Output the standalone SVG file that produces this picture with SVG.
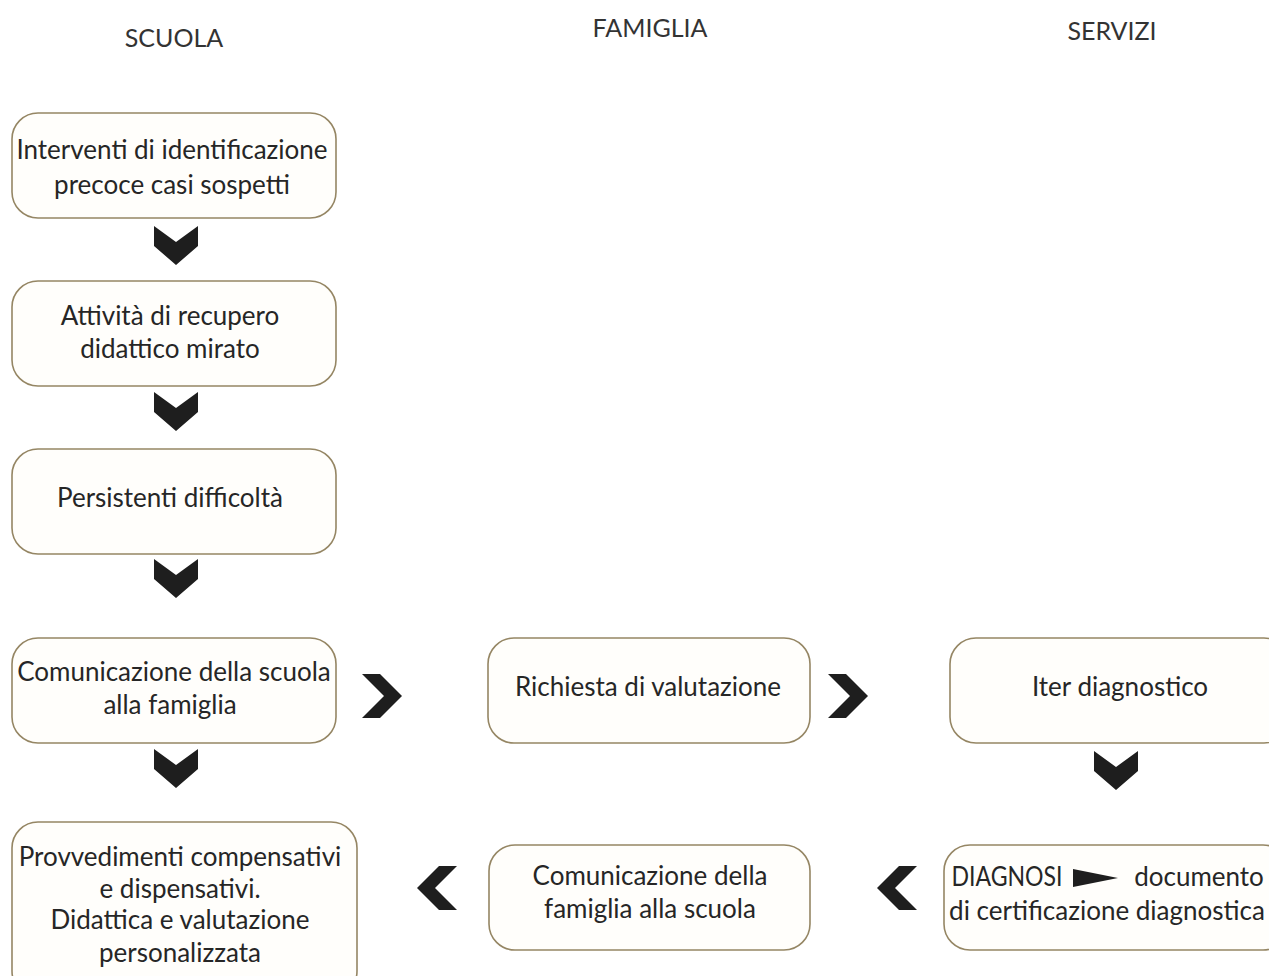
<svg xmlns="http://www.w3.org/2000/svg" width="1269" height="976" viewBox="0 0 1269 976">
<defs>
<style>
.box{fill:#fffefb;stroke:#958664;stroke-width:1.6}
.t{font-family:Lato,"Liberation Sans",sans-serif;font-size:26px;fill:#262626;text-anchor:middle}
.h{font-family:Lato,"Liberation Sans",sans-serif;font-size:25px;fill:#333;text-anchor:middle}
.chev{fill:#1e1e1e}
</style>
<polygon id="cd" points="-22,-19 0,-3 22,-19 22,1 0,20 -22,1"/>
<polygon id="cr" points="-20,-22 -2,-22 20,0 -2,22 -20,22 2,0"/>
</defs>
<rect width="1269" height="976" fill="#fff"/>
<g id="headers">
<text class="h" x="174" y="47">SCUOLA</text>
<text class="h" x="650" y="37">FAMIGLIA</text>
<text class="h" x="1112" y="40">SERVIZI</text>
</g>
<g id="connectors" class="chev">
<use href="#cd" x="176" y="245"/>
<use href="#cd" x="176" y="411"/>
<use href="#cd" x="176" y="578"/>
<use href="#cd" x="176" y="768"/>
<use href="#cd" x="1116" y="770"/>
<use href="#cr" x="382" y="696"/>
<use href="#cr" x="848" y="696"/>
<use href="#cr" transform="translate(437,888) scale(-1,1)"/>
<use href="#cr" transform="translate(897,888) scale(-1,1)"/>
</g>
<g id="n1"><rect class="box" x="12" y="113" width="324" height="105" rx="26"/>
<text class="t" x="172" y="159">Interventi di identificazione</text>
<text class="t" x="172" y="194">precoce casi sospetti</text></g>
<g id="n2"><rect class="box" x="12" y="281" width="324" height="105" rx="26"/>
<text class="t" x="170" y="325">Attività di recupero</text>
<text class="t" x="170" y="358">didattico mirato</text></g>
<g id="n3"><rect class="box" x="12" y="449" width="324" height="105" rx="26"/>
<text class="t" x="170" y="507">Persistenti difficoltà</text></g>
<g id="n4"><rect class="box" x="12" y="638" width="324" height="105" rx="26"/>
<text class="t" x="174" y="681">Comunicazione della scuola</text>
<text class="t" x="170" y="714">alla famiglia</text></g>
<g id="n5"><rect class="box" x="12" y="822" width="345" height="175" rx="26"/>
<text class="t" x="180" y="866">Provvedimenti compensativi</text>
<text class="t" x="180" y="898">e dispensativi.</text>
<text class="t" x="180" y="929">Didattica e valutazione</text>
<text class="t" x="180" y="962">personalizzata</text></g>
<g id="n6"><rect class="box" x="488" y="638" width="322" height="105" rx="26"/>
<text class="t" x="648" y="696">Richiesta di valutazione</text></g>
<g id="n7"><rect class="box" x="950" y="638" width="340" height="105" rx="26"/>
<text class="t" x="1120" y="696">Iter diagnostico</text></g>
<g id="n8"><rect class="box" x="489" y="845" width="321" height="105" rx="26"/>
<text class="t" x="650" y="885">Comunicazione della</text>
<text class="t" x="650" y="918">famiglia alla scuola</text></g>
<g id="n9"><rect class="box" x="944" y="845" width="345" height="105" rx="26"/>
<text class="t" x="1007" y="886" textLength="111" lengthAdjust="spacingAndGlyphs">DIAGNOSI</text>
<polygon class="chev" points="1073,869 1118,878 1073,887"/>
<text class="t" x="1199" y="886">documento</text>
<text class="t" x="1107" y="920">di certificazione diagnostica</text></g>
</svg>
